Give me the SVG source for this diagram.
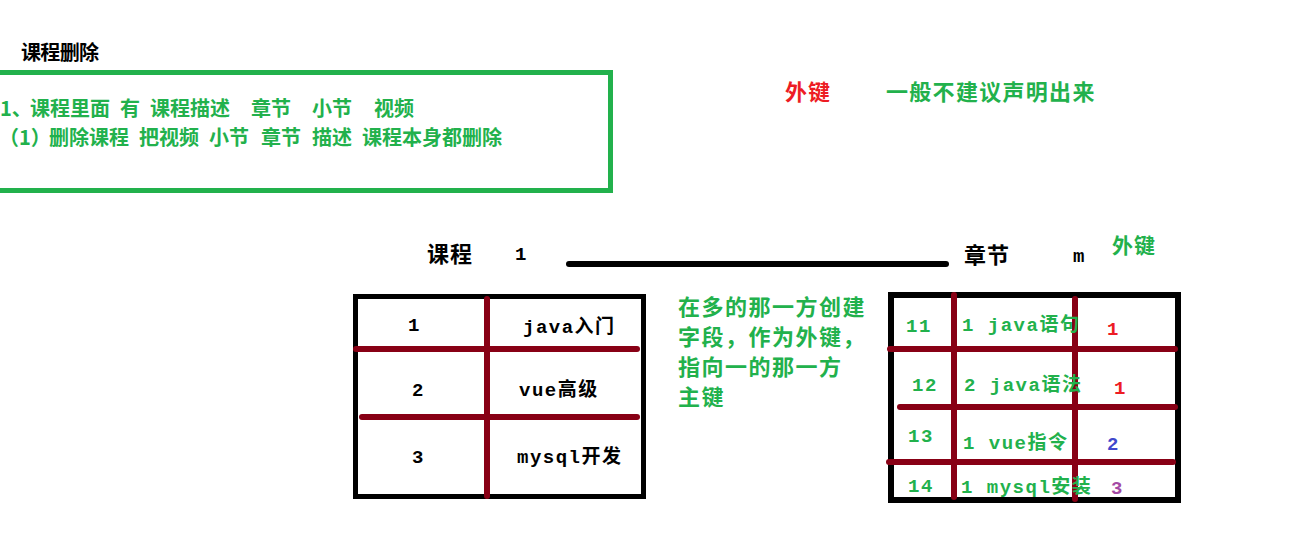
<svg xmlns="http://www.w3.org/2000/svg" width="1313" height="544" viewBox="0 0 1313 544">
<style>
text{font-family:"Liberation Mono","Noto Sans CJK SC",monospace;font-weight:bold}
.cjk{font-family:"Noto Sans CJK SC",sans-serif}
.g{fill:#22b14c}
.k{fill:#000}
.r{fill:#ed1c24}
.b{fill:#3f48cc}
.p{fill:#a349a4}
.grid{stroke:#880015;stroke-width:6;stroke-linecap:round;fill:none}
.frame{stroke:#000;fill:none}
.t{font-size:19px;letter-spacing:1.5px}
.m{font-size:22px;letter-spacing:1.5px}
</style>
<rect width="1313" height="544" fill="#fff"/>
<g id="title"><text class="cjk k" x="21" y="60" font-size="20" textLength="78">课程删除</text></g>
<g id="note-box">
<rect x="-5" y="72.5" width="615.5" height="118" fill="none" stroke="#22b14c" stroke-width="5"/>
<text class="cjk g" y="116" font-size="20"><tspan x="0">1、</tspan><tspan x="30">课程里面</tspan><tspan x="120">有</tspan><tspan x="150">课程描述</tspan><tspan x="251">章节</tspan><tspan x="312">小节</tspan><tspan x="374">视频</tspan></text>
<text class="cjk g" y="145" font-size="20"><tspan x="-1">（1）</tspan><tspan x="49">删除课程</tspan><tspan x="139">把视频</tspan><tspan x="209">小节</tspan><tspan x="261">章节</tspan><tspan x="312">描述</tspan><tspan x="362">课程本身都删除</tspan></text>
</g>
<g id="fk-note">
<text class="cjk r" x="785" y="100" font-size="22" letter-spacing="1">外键</text>
<text class="cjk g" x="886" y="100" font-size="22" letter-spacing="1.3">一般不建议声明出来</text>
</g>
<g id="connectors">
<line x1="569" y1="264" x2="946" y2="264" stroke="#000" stroke-width="6" stroke-linecap="round"/>
</g>
<g id="course-label">
<text class="cjk k" x="427" y="262" font-size="22" letter-spacing="1">课程</text>
<text class="k" x="515" y="260" font-size="19">1</text>
</g>
<g id="chapter-label">
<text class="cjk k" x="964" y="263" font-size="22" letter-spacing="1">章节</text>
<text class="k" x="1073" y="262" font-size="19">m</text>
<text class="cjk g" x="1112" y="253" font-size="21" letter-spacing="1">外键</text>
</g>
<g id="course-table">
<rect class="frame" x="355.5" y="296.5" width="288" height="200" stroke-width="5"/>
<line class="grid" x1="487" y1="299" x2="487" y2="496"/>
<line class="grid" x1="356" y1="349" x2="637" y2="349"/>
<line class="grid" x1="362" y1="417" x2="637" y2="417"/>
<text class="k t" x="408" y="331">1</text>
<text class="k t" x="523" y="333">java入门</text>
<text class="k t" x="412" y="396">2</text>
<text class="k t" x="519" y="396">vue高级</text>
<text class="k t" x="412" y="463">3</text>
<text class="k t" x="517" y="463">mysql开发</text>
</g>
<g id="explain">
<text class="cjk g m" x="678" y="315">在多的那一方创建</text>
<text class="cjk g m" x="678" y="345">字段，作为外键，</text>
<text class="cjk g m" x="678" y="375">指向一的那一方</text>
<text class="cjk g m" x="678" y="405">主键</text>
</g>
<g id="chapter-table">
<rect class="frame" x="891" y="295" width="287" height="205" stroke-width="6"/>
<line class="grid" x1="954" y1="295" x2="954" y2="497"/>
<line class="grid" x1="1075" y1="299" x2="1075" y2="499"/>
<line class="grid" x1="890" y1="349" x2="1175" y2="349"/>
<line class="grid" x1="900" y1="407" x2="1175" y2="407"/>
<line class="grid" x1="889" y1="462" x2="1173" y2="462"/>
<text class="g t" x="906" y="332">11</text>
<text class="g t" x="962" y="331">1 java语句</text>
<text class="r t" x="1107" y="335">1</text>
<text class="g t" x="912" y="391">12</text>
<text class="g t" x="964" y="391">2 java语法</text>
<text class="r t" x="1114" y="394">1</text>
<text class="g t" x="908" y="442">13</text>
<text class="g t" x="963" y="449">1 vue指令</text>
<text class="b t" x="1107" y="450">2</text>
<text class="g t" x="908" y="492">14</text>
<text class="g t" x="961" y="493">1 mysql安装</text>
<text class="p t" x="1111" y="494">3</text>
</g>
</svg>
